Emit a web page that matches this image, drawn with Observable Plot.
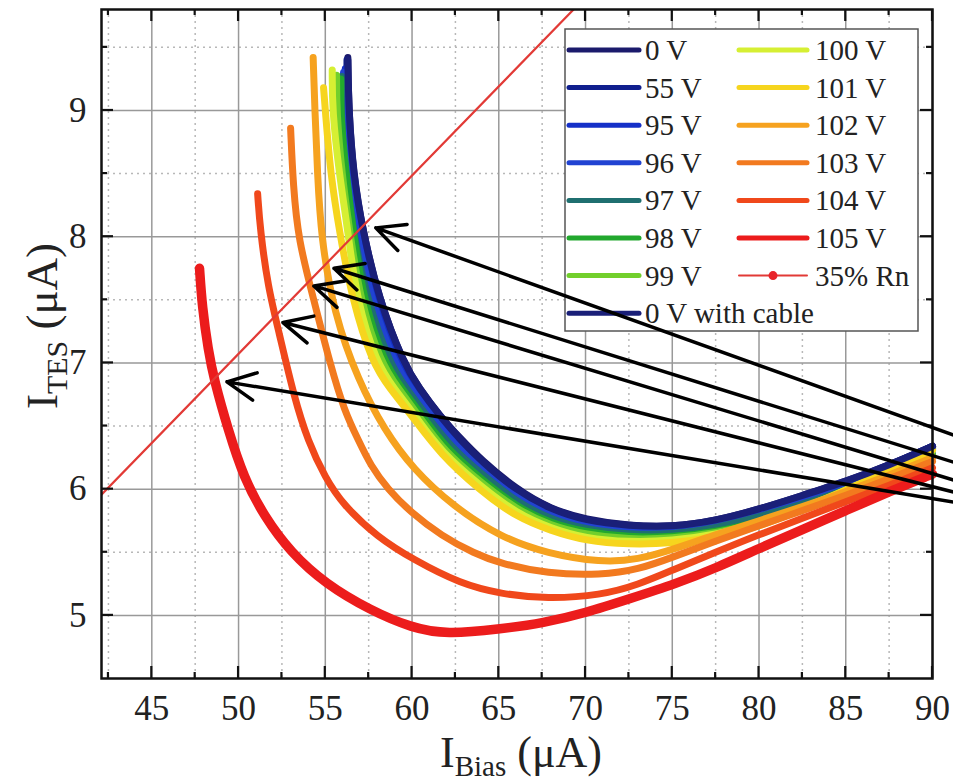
<!DOCTYPE html>
<html><head><meta charset="utf-8">
<script src="https://cdn.jsdelivr.net/npm/d3@7"></script>
<script src="https://cdn.jsdelivr.net/npm/@observablehq/plot@0.6"></script>
<style>
html,body{margin:0;padding:0;background:#fff;}
#chart svg{display:block;}
</style></head>
<body><div id="chart"></div>
<script>
// ---------- data ----------
const xMajor = [45, 50, 55, 60, 65, 70, 75, 80, 85, 90];
const xMinor = [42.5, 47.5, 52.5, 57.5, 62.5, 67.5, 72.5, 77.5, 82.5, 87.5];
const yMajor = [5, 6, 7, 8, 9];
const yMinor = [5.5, 6.5, 7.5, 8.5, 9.5];

const seriesNames = ["0 V", "55 V", "95 V", "96 V", "97 V", "98 V", "99 V",
  "100 V", "101 V", "102 V", "103 V", "104 V", "105 V", "0 V with cable"];
const seriesColors = ["#1b1a6c", "#101f8e", "#1530c8", "#2143d2", "#1f6f70", "#22a82e", "#72cf2c",
  "#d6ef33", "#f6d51e", "#f6a21f", "#f27a1f", "#f0481b", "#ec1c1c", "#1a1f78"];

const curve0V = [[56.3,9.42],[56.35,9.0],[56.6,8.5],[57.15,8.05],[58.1,7.5],[59.5,7.0],[60.4,6.8],[61.6,6.58],[62.8,6.4],
  [64,6.23],[66,6.0],[68,5.84],[70,5.76],[72.5,5.71],[75,5.70],[77.5,5.75],[80,5.84],[82.5,5.95],[85,6.06],[87.5,6.19],[90,6.34]];
const curve55V = [[56.25,9.40],[56.24,9.0],[56.5,8.5],[57.04,8.05],[57.98,7.5],[59.36,7.0],[60.25,6.8],[61.45,6.58],[62.7,6.39],
  [64,6.21],[66,5.98],[68,5.83],[70,5.75],[72.5,5.70],[75,5.69],[77.5,5.74],[80,5.83],[82.5,5.94],[85,6.05],[87.5,6.19],[90,6.34]];
const curve95V = [[56.15,9.33],[56.08,9.0],[56.34,8.5],[56.88,8.05],[57.79,7.5],[59.14,7.0],[60.05,6.8],[61.25,6.58],[62.55,6.37],
  [64,6.18],[66,5.96],[68,5.81],[70,5.73],[72.5,5.68],[75,5.67],[77.5,5.72],[80,5.81],[82.5,5.93],[85,6.05],[87.5,6.18],[90,6.33]];
const curve96V = [[56.05,9.30],[55.95,9.0],[56.21,8.5],[56.75,8.05],[57.64,7.5],[58.96,7.0],[59.9,6.8],[61.1,6.58],[62.4,6.36],
  [64,6.16],[66,5.93],[68,5.79],[70,5.71],[72.5,5.67],[75,5.66],[77.5,5.71],[80,5.80],[82.5,5.92],[85,6.04],[87.5,6.17],[90,6.32]];
const curve97V = [[55.95,9.27],[55.9,9.0],[56.1,8.5],[56.6,8.05],[57.4,7.5],[58.69,7.0],[59.65,6.8],[60.85,6.58],[62.2,6.34],
  [64,6.12],[66,5.90],[68,5.76],[70,5.68],[72.5,5.64],[75,5.64],[77.5,5.69],[80,5.78],[82.5,5.88],[85,5.99],[87.5,6.13],[90,6.28]];
const curve98V = [[55.9,9.25],[55.85,9.0],[56.2,8.5],[56.6,8.05],[57.2,7.5],[58.4,7.0],[59.4,6.8],[60.6,6.58],[62.0,6.32],
  [64,6.08],[66,5.86],[68,5.73],[70,5.66],[72.5,5.62],[75,5.62],[77.5,5.66],[80,5.74],[82.5,5.84],[85,5.95],[87.5,6.10],[90,6.26]];
const curve99V = [[55.65,9.28],[55.65,9.0],[55.95,8.5],[56.4,8.05],[57.0,7.5],[58.2,7.0],[59.2,6.8],[60.4,6.58],[61.85,6.3],
  [64,6.05],[66,5.84],[68,5.71],[70,5.64],[72.5,5.60],[75,5.61],[77.5,5.65],[80,5.73],[82.5,5.84],[85,5.96],[87.5,6.11],[90,6.27]];
const curve100V = [[55.4,9.32],[55.4,9.0],[55.8,8.5],[56.3,8.05],[56.8,7.5],[57.95,7.0],[58.95,6.8],[60.2,6.58],[61.7,6.29],
  [64,6.02],[66,5.81],[68,5.69],[70,5.61],[72.5,5.58],[75,5.59],[77.5,5.64],[80,5.72],[82.5,5.85],[85,5.99],[87.5,6.15],[90,6.31]];
const curve101V = [[54.9,9.18],[55.0,9.0],[55.3,8.5],[55.8,8.05],[56.55,7.5],[57.7,7.0],[58.7,6.8],[60.0,6.58],[61.6,6.28],
  [64,5.98],[66,5.78],[68,5.67],[70,5.59],[72.5,5.56],[75,5.57],[77.5,5.62],[80,5.70],[82.5,5.84],[85,5.99],[87.5,6.15],[90,6.31]];
const curve102V = [[54.3,9.42],[54.4,9.0],[54.55,8.5],[54.75,8.0],[55.5,7.39],[56.9,6.86],[58.4,6.47],[60.05,6.16],
  [62.4,5.86],[65.1,5.62],[67.8,5.49],[70.9,5.42],[73,5.44],[75.2,5.53],[77.5,5.64],[80,5.75],[82.5,5.86],[85,5.98],[87.5,6.11],[90,6.25]];
const curve103V = [[53.0,8.86],[53.15,8.4],[53.45,7.97],[54.3,7.52],[55.3,6.98],[56.1,6.62],[56.9,6.39],[57.6,6.19],[58.6,6.0],
  [59.9,5.82],[61.7,5.63],[63.6,5.49],[65.1,5.41],[67.8,5.33],[70.9,5.32],[73,5.36],[75.2,5.47],[77.5,5.59],[80,5.71],[82.5,5.83],[85,5.95],[87.5,6.08],[90,6.22]];
const curve104V = [[51.1,8.34],[51.25,8.05],[51.7,7.6],[52.3,7.26],[53.2,6.73],[54.0,6.38],[55.0,6.09],[56.0,5.88],[58,5.62],
  [60.1,5.44],[62.8,5.25],[65.1,5.17],[67.8,5.13],[70.9,5.16],[73,5.24],[75.2,5.37],[77.5,5.50],[80,5.64],[82.5,5.77],[85,5.90],[87.5,6.03],[90,6.17]];
const curve105V = [[47.75,7.75],[47.9,7.45],[48.25,7.1],[48.6,6.86],[49.4,6.47],[50.3,6.09],[51.5,5.78],[53.0,5.5],[55.0,5.25],
  [57.6,5.04],[60,4.90],[62,4.85],[65,4.89],[67.6,4.94],[70,5.02],[72.5,5.13],[75.2,5.25],[77.6,5.38],[80,5.53],[82.5,5.68],[85,5.83],[87.5,5.98],[90,6.12]];
const curve0Vcable = [[56.3,9.40],[56.35,9.0],[56.62,8.5],[57.15,8.05],[58.1,7.5],[59.5,7.0],[60.4,6.8],[61.6,6.58],[62.8,6.39],
  [64,6.22],[66,5.99],[68,5.84],[70,5.75],[72.5,5.71],[75,5.70],[77.5,5.75],[80,5.84],[82.5,5.95],[85,6.06],[87.5,6.19],[90,6.34]];

const curves = [curve0V, curve55V, curve95V, curve96V, curve97V, curve98V, curve99V,
  curve100V, curve101V, curve102V, curve103V, curve104V, curve105V, curve0Vcable];

// 35% Rn line
const rnBias = [40, 72];
const rnTes = [5.66, 10.18];

// arrows: tips at the 35% Rn crossings, tails off to the right
const arrowTipX = [57.91, 55.50, 54.34, 52.56, 49.33];
const arrowTipY = [8.07, 7.75, 7.61, 7.32, 6.85];
const arrowTailX = [92, 92, 92, 92, 92];
const arrowTailY = [6.39, 6.18, 6.04, 5.95, 5.88];

// ---------- build ----------
const font = "'Liberation Serif','Times New Roman','DejaVu Serif',serif";
const rnData = rnBias.map((x, i) => ({x, y: rnTes[i]}));
const arrows = arrowTipX.map((x, i) => ({x1: arrowTailX[i], y1: arrowTailY[i], x2: x, y2: arrowTipY[i]}));

const curveMarks = curves.map((c, i) => Plot.line(c, {
  x: d => d[0], y: d => d[1], stroke: seriesColors[i],
  strokeWidth: i === 12 ? 9.5 : 7, curve: "basis",
  strokeLinecap: "round", strokeLinejoin: "round"
}));

const W = 953, H = 782;
const plot = Plot.plot({
  width: W, height: H,
  marginLeft: 101, marginRight: 21, marginTop: 9, marginBottom: 104,
  style: {fontFamily: font, background: "#fff", color: "#222"},
  x: {domain: [42.1, 90]},
  y: {domain: [4.5, 9.8]},
  marks: [
    Plot.gridX(xMinor, {stroke: "#b8b8b8", strokeOpacity: 1, strokeWidth: 1.5, strokeDasharray: "2,4"}),
    Plot.gridY(yMinor, {stroke: "#b8b8b8", strokeOpacity: 1, strokeWidth: 1.5, strokeDasharray: "2,4"}),
    Plot.gridX(xMajor, {stroke: "#999", strokeOpacity: 1, strokeWidth: 1.5}),
    Plot.gridY(yMajor, {stroke: "#999", strokeOpacity: 1, strokeWidth: 1.5}),
    Plot.axisX(xMajor, {tickSize: 0, tickPadding: 17, fontSize: 35, fontFamily: font, label: null, fill: "#222", tickFormat: d => String(d)}),
    Plot.axisY(yMajor, {tickSize: 0, tickPadding: 15, fontSize: 35, fontFamily: font, label: null, fill: "#222", tickFormat: d => String(d)}),
    ...curveMarks,
    Plot.line(rnData, {x: "x", y: "y", stroke: "#e23a36", strokeWidth: 2.2, clip: true}),
    Plot.frame({stroke: "#111", strokeWidth: 2.5}),
    Plot.arrow(arrows, {x1: "x1", y1: "y1", x2: "x2", y2: "y2", stroke: "#000",
      strokeWidth: 3.5, headLength: 13.5, headAngle: 52})
  ]
});
document.getElementById("chart").appendChild(plot);

// ---------- decorations via the plot's scales ----------
const svg = d3.select(plot).attr("overflow", "hidden");
const sx = plot.scale("x"), sy = plot.scale("y");
const X0 = sx.apply(42.1), X1 = sx.apply(90), Y0 = sy.apply(4.5), Y1 = sy.apply(9.8);
const tg = svg.append("g").attr("stroke", "#111").attr("stroke-width", 2.2);
function tickX(v, len) {
  const px = sx.apply(v);
  tg.append("line").attr("x1", px).attr("x2", px).attr("y1", Y0).attr("y2", Y0 - len);
  tg.append("line").attr("x1", px).attr("x2", px).attr("y1", Y1).attr("y2", Y1 + len);
}
function tickY(v, len) {
  const py = sy.apply(v);
  tg.append("line").attr("y1", py).attr("y2", py).attr("x1", X0).attr("x2", X0 + len);
  tg.append("line").attr("y1", py).attr("y2", py).attr("x1", X1).attr("x2", X1 - len);
}
xMajor.forEach(v => tickX(v, 12)); xMinor.forEach(v => tickX(v, 6));
yMajor.forEach(v => tickY(v, 12)); yMinor.forEach(v => tickY(v, 6));

// legend
const lg = svg.append("g").attr("font-family", font).attr("font-size", 29)
  .attr("fill", "#222").attr("text-anchor", "start");
lg.append("rect").attr("x", 565).attr("y", 29).attr("width", 353).attr("height", 302)
  .attr("fill", "#fff").attr("stroke", "#555").attr("stroke-width", 1.5);
const rowY = r => 50 + 37.6 * r;
const col1 = [0, 1, 2, 3, 4, 5, 6, 13];
const col2 = [7, 8, 9, 10, 11, 12];
function legendItem(x0, x1, tx, y, color, label, width) {
  lg.append("line").attr("x1", x0).attr("x2", x1).attr("y1", y).attr("y2", y)
    .attr("stroke", color).attr("stroke-width", width).attr("stroke-linecap", "round");
  lg.append("text").attr("x", tx).attr("y", y + 10).text(label);
}
col1.forEach((s, r) => legendItem(569, 639, 645, rowY(r), seriesColors[s], seriesNames[s], 5));
col2.forEach((s, r) => legendItem(739, 807, 815, rowY(r), seriesColors[s], seriesNames[s], 5));
legendItem(739, 807, 815, rowY(6), "#e23a36", "35% Rn", 2);
lg.append("circle").attr("cx", 773).attr("cy", rowY(6)).attr("r", 4.5).attr("fill", "#e8242a");

// axis titles
const xt = svg.append("text").attr("font-family", font).attr("fill", "#222")
  .attr("x", 521).attr("y", 767).attr("text-anchor", "middle").attr("font-size", 44);
xt.append("tspan").text("I");
xt.append("tspan").attr("font-size", 29).attr("dy", 9).text("Bias");
xt.append("tspan").attr("dy", -9).text(" (μA)");
const yt = svg.append("text").attr("font-family", font).attr("fill", "#222")
  .attr("transform", "translate(57,326) rotate(-90)").attr("text-anchor", "middle").attr("font-size", 45);
yt.append("tspan").text("I");
yt.append("tspan").attr("font-size", 30).attr("dy", 10).text("TES");
yt.append("tspan").attr("dy", -10).text(" (μA)");

// arrows on top of the legend
const arrowG = plot.querySelector('g[aria-label="arrow"]');
if (arrowG) plot.appendChild(arrowG);
</script>
</body></html>
